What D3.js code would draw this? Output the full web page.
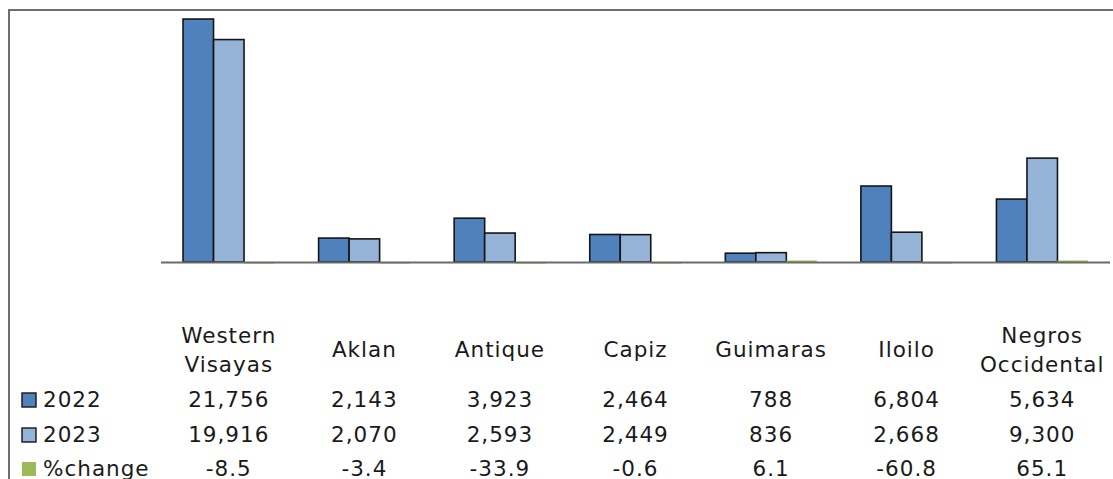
<!DOCTYPE html>
<html>
<head>
<meta charset="utf-8">
<style>
    body { margin: 0; background: #fff; }
    svg { display: block; }
    .cell { font-family: "DejaVu Sans", Verdana, sans-serif; font-size: 21.5px; fill: #1a1a1a; letter-spacing: 1px; }
</style>
</head>
<body>
<script src="https://cdn.jsdelivr.net/npm/d3@7"></script>
<script>
// chart values
var provinces = ["Western Visayas", "Aklan", "Antique", "Capiz", "Guimaras", "Iloilo", "Negros Occidental"];
var provinceLines = [["Western", "Visayas"], ["Aklan"], ["Antique"], ["Capiz"], ["Guimaras"], ["Iloilo"], ["Negros", "Occidental"]];
var seriesNames = ["2022", "2023", "%change"];
var values2022 = [21756, 2143, 3923, 2464, 788, 6804, 5634];
var values2023 = [19916, 2070, 2593, 2449, 836, 2668, 9300];
var pctChange = [-8.5, -3.4, -33.9, -0.6, 6.1, -60.8, 65.1];
var seriesLabels = [
    ["21,756", "2,143", "3,923", "2,464", "788", "6,804", "5,634"],
    ["19,916", "2,070", "2,593", "2,449", "836", "2,668", "9,300"],
    ["-8.5", "-3.4", "-33.9", "-0.6", "6.1", "-60.8", "65.1"]
];
var colors = ["#4f81bd", "#95b3d7", "#9bbb59"];

var width = 1113, height = 479;

var svg = d3.select("body").append("svg")
    .attr("width", width)
    .attr("height", height);

var x0 = d3.scaleBand()
    .domain(provinces)
    .range([161, 1110])
    .paddingInner(0.325)
    .paddingOuter(0.1625);

var x1 = d3.scaleBand()
    .domain(seriesNames)
    .range([0, x0.bandwidth()]);

var y = d3.scaleLinear()
    .domain([0, 22000])
    .range([262, 16.3]);

var rows = provinces.map(function(p, i) {
    return { name: p, vals: [values2022[i], values2023[i], pctChange[i]] };
});

var groups = svg.append("g").selectAll("g")
    .data(rows)
    .enter().append("g")
    .attr("transform", function(d) { return "translate(" + x0(d.name) + ",0)"; });

groups.selectAll("rect")
    .data(function(d) { return d.vals.map(function(v, k) { return { s: seriesNames[k], k: k, v: v }; }); })
    .enter().append("rect")
    .attr("x", function(d) { return x1(d.s); })
    .attr("width", x1.bandwidth())
    .attr("y", function(d) {
        if (d.v < 0) return y(0);
        var h = Math.max(1.5, y(0) - y(d.v));
        return y(0) - h;
    })
    .attr("height", function(d) { return Math.max(1.5, Math.abs(y(0) - y(d.v))); })
    .attr("fill", function(d) { return colors[d.k]; })
    .attr("stroke", function(d) { return d.k < 2 ? "#151515" : "none"; })
    .attr("stroke-width", 1.6);

// category axis line
svg.append("line")
    .attr("x1", 161).attr("x2", 1110)
    .attr("y1", y(0) + 0.5).attr("y2", y(0) + 0.5)
    .attr("stroke", "#6b6b6b")
    .attr("stroke-width", 2.2);

// outer frame
svg.append("path")
    .attr("d", "M9," + height + "V10H" + width)
    .attr("fill", "none")
    .attr("stroke", "#6e6e6e")
    .attr("stroke-width", 2);

// data table: category headers
var header = svg.append("g");
provinceLines.forEach(function(lines, i) {
    var cx = x0(provinces[i]) + x0.bandwidth() / 2;
    var t = header.append("text")
        .attr("class", "cell")
        .attr("text-anchor", "middle")
        .attr("x", cx)
        .attr("y", lines.length > 1 ? 343 : 357);
    lines.forEach(function(line, j) {
        t.append("tspan")
            .attr("x", cx)
            .attr("dy", j === 0 ? 0 : 29)
            .text(line);
    });
});

// data table: rows
var rowBase = [407, 442, 476];
seriesNames.forEach(function(s, k) {
    var rg = svg.append("g");
    rg.append("rect")
        .attr("x", 22).attr("y", rowBase[k] - 14)
        .attr("width", 14).attr("height", 14)
        .attr("fill", colors[k])
        .attr("stroke", k < 2 ? "#151515" : "none")
        .attr("stroke-width", 1.4);
    rg.append("text")
        .attr("class", "cell")
        .attr("x", 43)
        .attr("y", rowBase[k])
        .text(s);
    rg.selectAll("text.v")
        .data(seriesLabels[k])
        .enter().append("text")
        .attr("class", "cell v")
        .attr("text-anchor", "middle")
        .attr("x", function(d, i) { return x0(provinces[i]) + x0.bandwidth() / 2; })
        .attr("y", rowBase[k])
        .text(function(d) { return d; });
});
</script>
</body>
</html>
